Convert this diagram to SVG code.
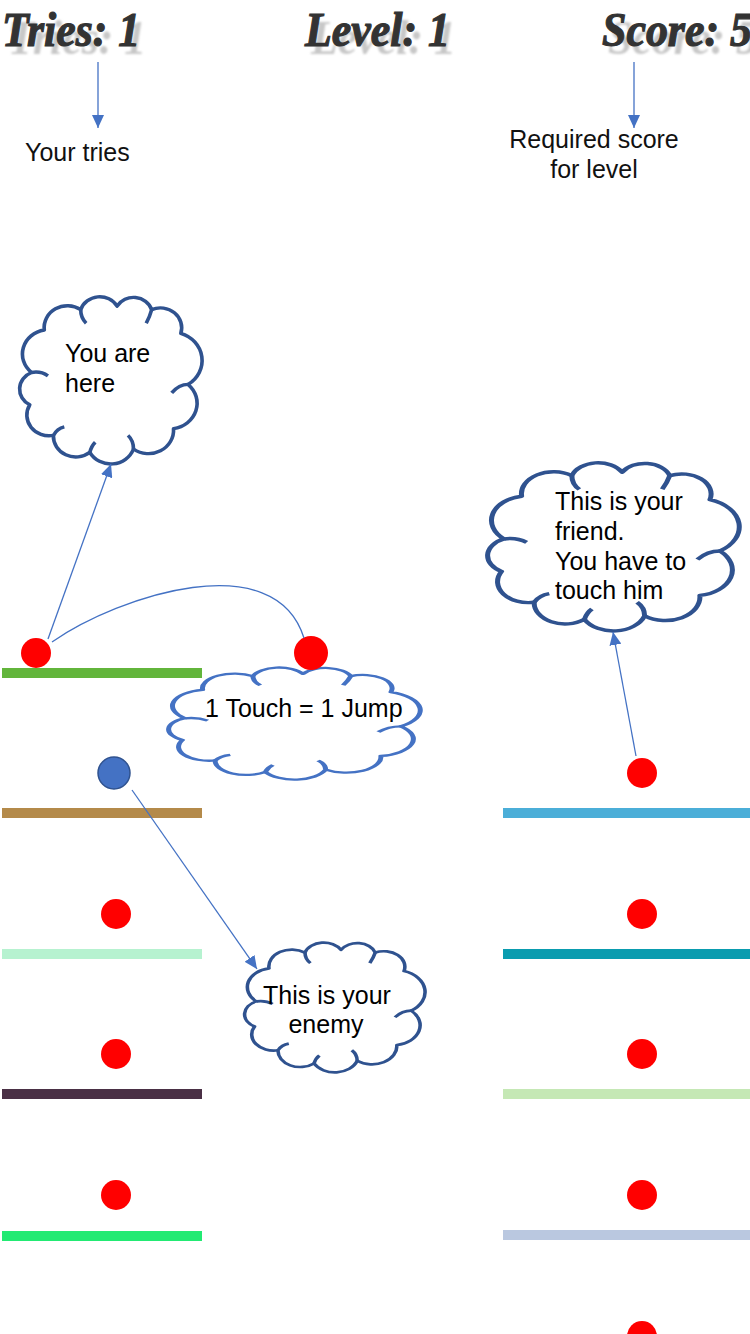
<svg xmlns="http://www.w3.org/2000/svg" xmlns:xlink="http://www.w3.org/1999/xlink" width="750" height="1334" viewBox="0 0 750 1334">
<style>
.hdr{font-family:"Liberation Serif","DejaVu Serif",serif;font-weight:bold;font-style:italic;font-size:48px;fill:#333333;stroke:#333333;stroke-width:1.2}
.shd{font-family:"Liberation Serif","DejaVu Serif",serif;font-weight:bold;font-style:italic;font-size:48px;fill:#c8c8c8}
.lbl{font-family:"Liberation Sans",Arial,sans-serif;font-size:25px;fill:#111111}
.ct{font-family:"Liberation Sans",Arial,sans-serif;font-size:25px;fill:#000000}
.cl{fill:#ffffff;stroke:#2F528F;stroke-width:2;vector-effect:non-scaling-stroke;stroke-linejoin:round}
.cd{fill:none;stroke:#2F528F;stroke-width:2;vector-effect:non-scaling-stroke}
.cl2{fill:#ffffff;stroke:#4472C4;stroke-width:2;vector-effect:non-scaling-stroke;stroke-linejoin:round}
.cd2{fill:none;stroke:#4472C4;stroke-width:2;vector-effect:non-scaling-stroke}
.arr{fill:none;stroke:#4472C4;stroke-width:1.3;marker-end:url(#ah)}
.red{fill:#FF0000}
</style>
<defs>
<marker id="ah" markerUnits="userSpaceOnUse" markerWidth="14" markerHeight="12" refX="13" refY="6" orient="auto">
<path d="M0,0 L13,6 L0,12 z" fill="#4472C4"/>
</marker>
<filter id="blur" x="-5%" y="-20%" width="110%" height="140%"><feGaussianBlur stdDeviation="0.8"/></filter>
<path id="cloudO" d="M8,45 A14.3,14.3 0 0 1 15,20 A12.8,12.8 0 0 1 35,8 A11,11 0 0 1 55,6 A10.5,10.5 0 0 1 74,8 A11.7,11.7 0 0 1 90,22 A16.7,16.7 0 0 1 94,52 A15,15 0 0 1 86,78 A13.8,13.8 0 0 1 64,90 A13.2,13.2 0 0 1 40,92 A12.3,12.3 0 0 1 20,82 A12.2,12.2 0 0 1 7,64 A10.5,10.5 0 0 1 8,45 Z"/>
<path id="cloudD" d="M8,45 Q13,44 17,47 M35,8 Q35,13 38,16 M74,8 Q73,12 71,16 M94,52 Q89,52 85,57 M64,90 Q64,85 61,82 M40,92 Q41,88 43,86 M20,82 Q22,78 26,77"/>
</defs>

<g id="header">
<text class="shd" x="8" y="54" textLength="138" lengthAdjust="spacingAndGlyphs" filter="url(#blur)">Tries: 1</text>
<text class="shd" x="311" y="54" textLength="145" lengthAdjust="spacingAndGlyphs" filter="url(#blur)">Level: 1</text>
<text class="shd" x="608" y="54" textLength="150" lengthAdjust="spacingAndGlyphs" filter="url(#blur)">Score: 5</text>
<text class="hdr" x="2" y="46" textLength="138" lengthAdjust="spacingAndGlyphs">Tries: 1</text>
<text class="hdr" x="305" y="46" textLength="145" lengthAdjust="spacingAndGlyphs">Level: 1</text>
<text class="hdr" x="602" y="46" textLength="150" lengthAdjust="spacingAndGlyphs">Score: 5</text>
</g>

<g id="labels">
<text class="lbl" x="25" y="161">Your tries</text>
<text class="lbl" x="594" y="148" text-anchor="middle">Required score</text>
<text class="lbl" x="594" y="178" text-anchor="middle">for level</text>
</g>

<g id="platforms">
<rect x="2" y="668" width="200" height="10" fill="#62B53B"/>
<rect x="2" y="808" width="200" height="10" fill="#B48A4A"/>
<rect x="2" y="949" width="200" height="10" fill="#B6F2D0"/>
<rect x="2" y="1089" width="200" height="10" fill="#4A3045"/>
<rect x="2" y="1231" width="200" height="10" fill="#22EA73"/>
<rect x="503" y="808" width="247" height="10" fill="#4BAED8"/>
<rect x="503" y="949" width="247" height="10" fill="#0A9CAF"/>
<rect x="503" y="1089" width="247" height="10" fill="#C5E8B5"/>
<rect x="503" y="1230" width="247" height="10" fill="#BAC8E0"/>
</g>

<g id="cloud-here">
<use xlink:href="#cloudO" class="cl" transform="translate(17,296) scale(1.82,1.7)"/>
<use xlink:href="#cloudD" class="cd" transform="translate(17,296) scale(1.82,1.7)"/>
<text class="ct" x="65" y="362">You are</text>
<text class="ct" x="65" y="392">here</text>
</g>

<g id="cloud-touch">
<use xlink:href="#cloudO" class="cl2" transform="translate(165,667) scale(2.51,1.14)"/>
<use xlink:href="#cloudD" class="cd2" transform="translate(165,667) scale(2.51,1.14)"/>
<text class="ct" x="205" y="717">1 Touch = 1 Jump</text>
</g>

<g id="cloud-friend">
<use xlink:href="#cloudO" class="cl" transform="translate(484,462) scale(2.51,1.71)"/>
<use xlink:href="#cloudD" class="cd" transform="translate(484,462) scale(2.51,1.71)"/>
<text class="ct" x="555" y="510">This is your</text>
<text class="ct" x="555" y="540">friend.</text>
<text class="ct" x="555" y="570">You have to</text>
<text class="ct" x="555" y="599">touch him</text>
</g>

<g id="cloud-enemy">
<use xlink:href="#cloudO" class="cl" transform="translate(242,942) scale(1.8,1.32)"/>
<use xlink:href="#cloudD" class="cd" transform="translate(242,942) scale(1.8,1.32)"/>
<text class="ct" x="327" y="1004" text-anchor="middle">This is your</text>
<text class="ct" x="326" y="1033" text-anchor="middle">enemy</text>
</g>

<g id="balls">
<circle class="red" cx="36" cy="653" r="15"/>
<circle class="red" cx="311" cy="653" r="17"/>
<circle cx="114" cy="773" r="16" fill="#4472C4" stroke="#2F528F" stroke-width="1.5"/>
<circle class="red" cx="116" cy="914" r="15"/>
<circle class="red" cx="116" cy="1054" r="15"/>
<circle class="red" cx="116" cy="1195" r="15"/>
<circle class="red" cx="642" cy="773" r="15"/>
<circle class="red" cx="642" cy="914" r="15"/>
<circle class="red" cx="642" cy="1054" r="15"/>
<circle class="red" cx="642" cy="1195" r="15"/>
<circle class="red" cx="642" cy="1336" r="15"/>
</g>

<g id="connectors">
<path class="arr" d="M98,62 L98,128"/>
<path class="arr" d="M634,62 L634,128"/>
<path class="arr" d="M48,639 L111,464"/>
<path d="M52,642 C120,595 275,545 304,638" fill="none" stroke="#4472C4" stroke-width="1.3"/>
<path class="arr" d="M636,756 L613,632"/>
<path class="arr" d="M132,790 L257,969"/>
</g>
</svg>
